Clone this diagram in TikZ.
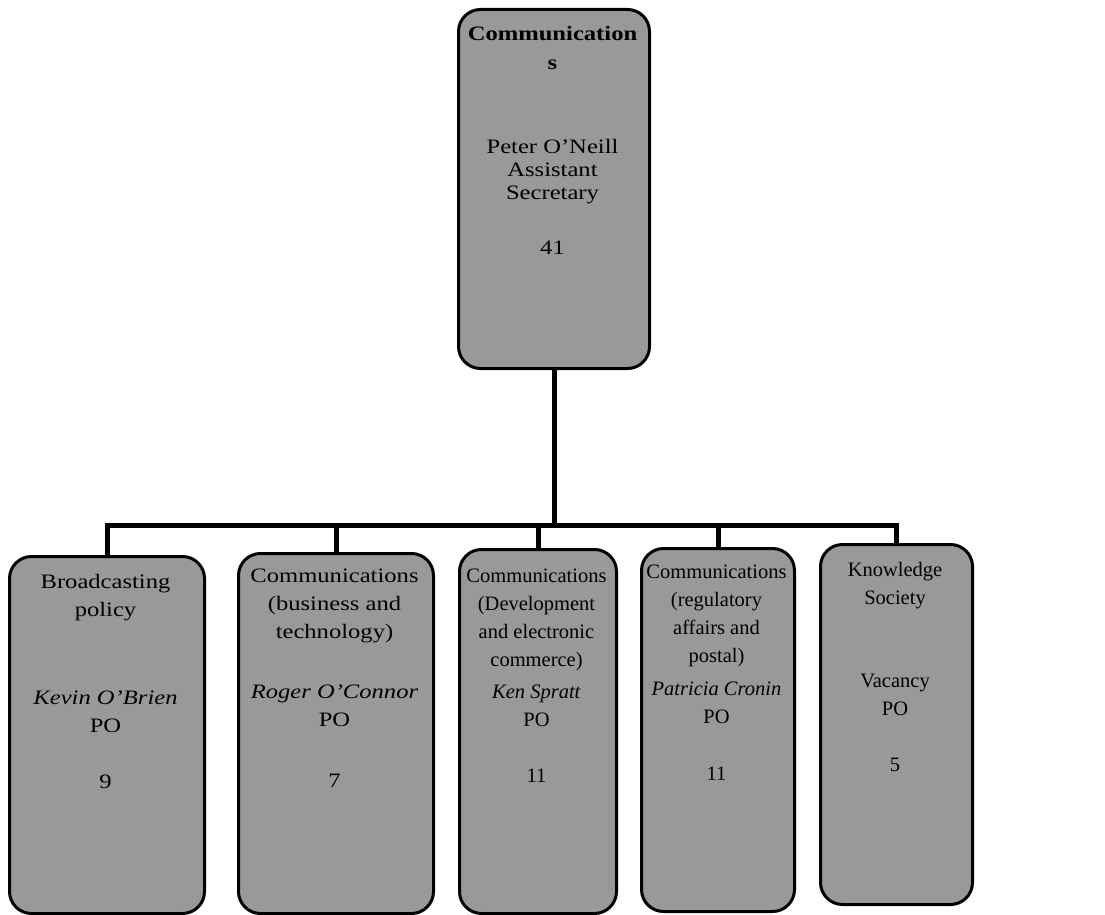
\documentclass[tikz,border=0pt]{standalone}
\usepackage{fontspec}
\setmainfont{Liberation Serif}
\newfontfamily\widefont{Liberation Serif}[FakeStretch=1.2]
\begin{document}
\begin{tikzpicture}[x=1pt,y=-1pt,
  box/.style={draw=black, line width=3pt, rounded corners=22pt, fill=black!40, inner sep=0pt, anchor=north west},
  wire/.style={draw=black, line width=5pt},
  lbl/.style={align=center, inner sep=0pt, anchor=north, font=\fontsize{20.5}{28}\selectfont},
  wlbl/.style={lbl, font=\widefont\fontsize{20.5}{28}\selectfont}]
\useasboundingbox (0,0) rectangle (1105,915);
% boxes
\node[box, minimum width=191pt, minimum height=359pt] (top) at (457,8) {};
\node[box, minimum width=195pt, minimum height=357pt] (b1) at (8,555) {};
\node[box, minimum width=195pt, minimum height=360pt] (b2) at (237,552) {};
\node[box, minimum width=157pt, minimum height=364pt] (b3) at (458,548) {};
\node[box, minimum width=153pt, minimum height=363pt] (b4) at (640,547) {};
\node[box, minimum width=152pt, minimum height=360pt] (b5) at (819,543) {};
% connectors
\coordinate (bar) at (553,525);
\draw[wire] (top.south) -- (top.south |- bar);
\draw[wire] (b1.north) |- (b5.north |- bar) -- (b5.north);
\draw[wire] (b2.north) -- (b2.north |- bar);
\draw[wire] (b3.north) -- (b3.north |- bar);
\draw[wire] (b4.north) -- (b4.north |- bar);
% texts
\node[wlbl, font=\widefont\bfseries\fontsize{20.5}{29}\selectfont] (ttitle) at (552.5,26) {Communication\\s};
\node[wlbl, font=\widefont\fontsize{20.5}{23}\selectfont] (tbody) at (552.5,139) {Peter O’Neill\\Assistant\\Secretary\\[32pt]41};
\node[wlbl] (t1) at (105.5,574) {Broadcasting\\policy\\[60pt]\textit{Kevin O’Brien}\\PO\\[28pt]9};
\node[wlbl] (t2) at (334.5,569) {Communications\\(business and\\technology)\\[32pt]\textit{Roger O’Connor}\\PO\\[33pt]7};
\node[lbl] (t3) at (536.5,569) {Communications\\(Development\\and electronic\\commerce)\\[4pt]\textit{Ken Spratt}\\PO\\[28pt]11};
\node[lbl] (t4) at (716.5,565) {Communications\\(regulatory\\affairs and\\postal)\\[5pt]\textit{Patricia Cronin}\\PO\\[29pt]11};
\node[lbl] (t5) at (895,562) {Knowledge\\Society\\[55pt]Vacancy\\PO\\[28pt]5};
\end{tikzpicture}
\end{document}
